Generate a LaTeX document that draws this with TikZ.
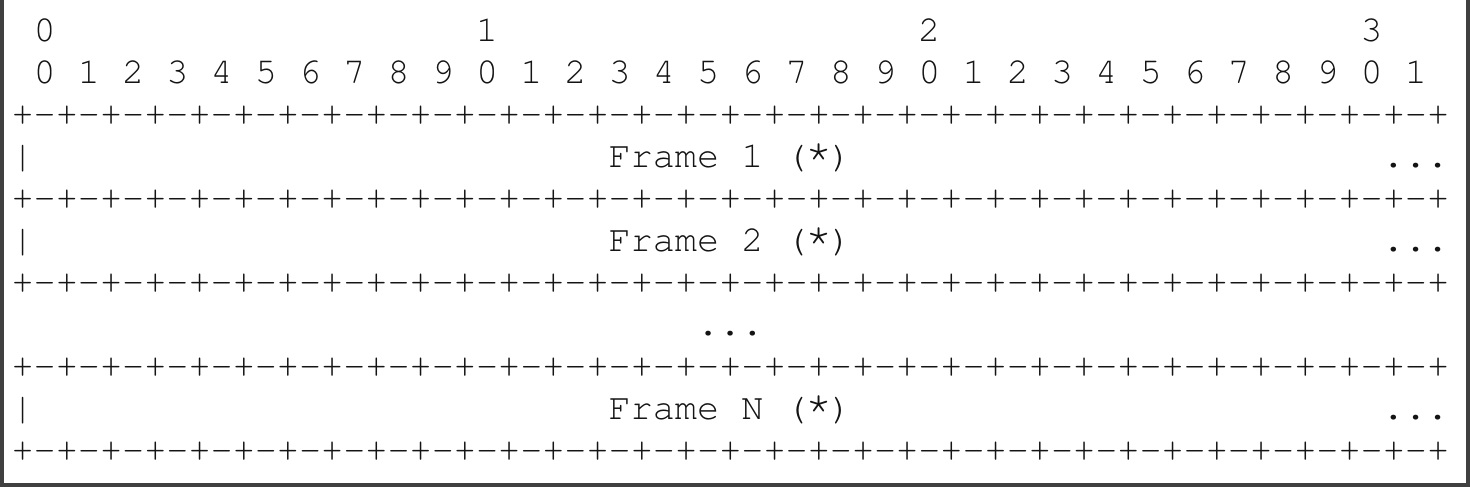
\documentclass[tikz,border=0pt]{standalone}
\usepackage[T1]{fontenc}
\usepackage{courier}
\usepackage{graphicx}
\def\sepunit{-+-+-+-+}
\def\sepline{+\sepunit\sepunit\sepunit\sepunit\sepunit\sepunit\sepunit\sepunit}
\newcommand\myast{\makebox[22.11pt][c]{\raisebox{4pt}{\scalebox{1.25}{*}}}}
\tikzset{
  txt/.style={anchor=base west, inner sep=0pt, outer sep=0pt,
    font=\fontsize{36.86}{40}\selectfont\ttfamily, text=black!92},
  frameline/.style={line width=4pt, draw=black!75}
}
\begin{document}
\begin{tikzpicture}[x=1pt,y=-1pt]
\useasboundingbox (0,0) rectangle (1470,487);
\fill[white] (0,0) rectangle (1470,487);
\draw[frameline] (2,0) -- (2,485) -- (1468,485) -- (1468,0);
% row 0
\node[txt] (h0) at ({11.6+1*22.11},41.5) {0};
\node[txt] (h1) at ({11.6+21*22.11},41.5) {1};
\node[txt] (h2) at ({11.6+41*22.11},41.5) {2};
\node[txt] (h3) at ({11.6+61*22.11},41.5) {3};
% row 1
\node[txt] (bits) at ({11.6+1*22.11},83.5) {0 1 2 3 4 5 6 7 8 9 0 1 2 3 4 5 6 7 8 9 0 1 2 3 4 5 6 7 8 9 0 1};
% separators
\node[txt] (s1) at (11.6,125.5) {\sepline};
\node[txt] (s2) at (11.6,209.5) {\sepline};
\node[txt] (s3) at (11.6,293.5) {\sepline};
\node[txt] (s4) at (11.6,377.5) {\sepline};
\node[txt] (s5) at (11.6,461.5) {\sepline};
% frame 1
\node[txt] (b1) at (11.6,167.5) {|};
\node[txt] (f1) at ({11.6+27*22.11},167.5) {Frame 1 (\myast)};
\node[txt] (e1) at ({11.6+62*22.11},167.5) {...};
% frame 2
\node[txt] (b2) at (11.6,251.5) {|};
\node[txt] (f2) at ({11.6+27*22.11},251.5) {Frame 2 (\myast)};
\node[txt] (e2) at ({11.6+62*22.11},251.5) {...};
% middle dots
\node[txt] (mid) at ({11.6+31*22.11},335.5) {...};
% frame N
\node[txt] (bN) at (11.6,419.5) {|};
\node[txt] (fN) at ({11.6+27*22.11},419.5) {Frame N (\myast)};
\node[txt] (eN) at ({11.6+62*22.11},419.5) {...};
\end{tikzpicture}
\end{document}
